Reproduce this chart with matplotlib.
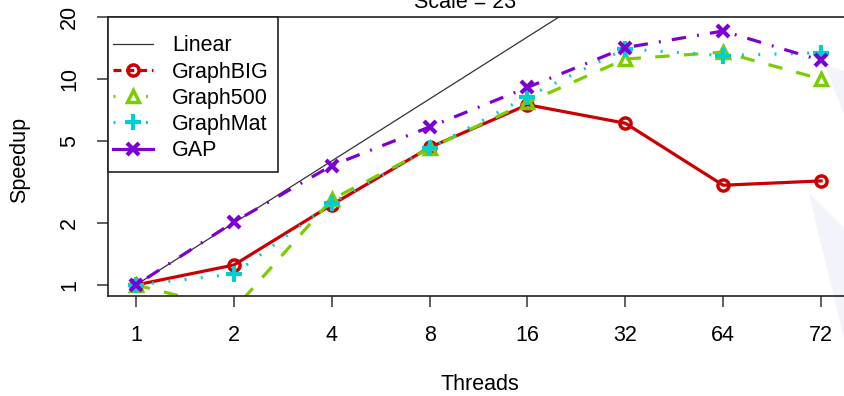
import matplotlib
matplotlib.use("Agg")
import matplotlib.pyplot as plt
from matplotlib.patches import Polygon, Rectangle
from matplotlib.lines import Line2D
import numpy as np

plt.rcParams['font.family'] = ['Liberation Sans', 'DejaVu Sans']

threads = ["1", "2", "4", "8", "16", "32", "64", "72"]
linear = [1, 2, 4, 8, 16, 32, 64, 72]
graphbig = [1.0, 1.25, 2.45, 4.65, 7.5, 6.1, 3.05, 3.2]
graph500 = [1.0, 0.76, 2.6, 4.6, 7.7, 12.5, 13.5, 10.0]
graphmat = [1.0, 1.13, 2.5, 4.6, 8.2, 14.0, 13.0, 13.4]
gap = [1.0, 2.02, 3.8, 5.85, 9.1, 14.2, 17.1, 12.3]

W, H = 845, 396
FS = 15.5
fig = plt.figure(figsize=(W / 100, H / 100), dpi=100)
AX_L, AX_T, AX_B = 108, 17, 296
ax = fig.add_axes([AX_L / W, (H - AX_B) / H, 1 - AX_L / W, (AX_B - AX_T) / H])
AW, AH = W - AX_L, AX_B - AX_T

x = np.arange(1, len(threads) + 1)
lw = 2.3
mew = 2.5
c_big, c_500, c_mat, c_gap = "#CC0000", "#7CCD00", "#00CED1", "#7D00D2"
ax.plot(x, linear, color="#333333", lw=0.9)
ax.plot(x, graphbig, color=c_big, lw=lw, marker="o", ms=8, mfc="none", mew=mew)
ax.plot(x, graph500, color=c_500, lw=lw, dashes=(4.5, 4.5), marker="^", ms=9,
        mfc="none", mew=mew)
ax.plot(x, graphmat, color=c_mat, lw=lw, dashes=(0.6, 4.5))
ax.plot(x, graphmat, color=c_mat, lw=0, marker="+", ms=12, mew=3)
ax.plot(x, gap, color=c_gap, lw=lw, dashes=(0.6, 3.5, 4.5, 3.5), marker="x", ms=9, mew=3)

ax.set_yscale("log")
ax.set_ylim(0.884, 20)
ax.set_xlim(0.714, 8.245)
ax.set_yticks([1, 2, 5, 10, 20])
ax.set_yticklabels(["1", "2", "5", "10", "20"], rotation=90, va="center")
ax.yaxis.set_minor_locator(matplotlib.ticker.NullLocator())
ax.set_xticks(x)
ax.set_xticklabels(threads)
ax.tick_params(axis="both", labelsize=FS, length=8, width=1.2, color="#444444")
ax.tick_params(axis="x", pad=13)
ax.tick_params(axis="y", pad=12)
for s in ["left", "bottom", "top"]:
    ax.spines[s].set_linewidth(1.2)
    ax.spines[s].set_color("#222222")
ax.spines["right"].set_visible(False)

fig.text(20 / W, 1 - 160 / H, "Speedup", rotation=90, ha="center", va="center", fontsize=FS)
fig.text(480 / W, 1 - 385 / H, "Threads", ha="center", va="center", fontsize=FS)
fig.text(465 / W, 1 - 2 / H, "Scale = 23", ha="center", va="center", fontsize=FS)

# legend frame
ax.add_patch(Rectangle((0, (AX_B - 172) / AH), (278 - AX_L) / AW, 1 - (AX_B - 172) / AH,
                       transform=ax.transAxes, facecolor="white", edgecolor="#222222",
                       lw=1.2, zorder=4.5, clip_on=False))
handles = [
    Line2D([], [], color="#333333", lw=0.9),
    Line2D([], [], color=c_big, lw=lw, dashes=(2.5, 1.5), marker="o", ms=8, mfc="none", mew=mew),
    Line2D([], [], color=c_500, lw=lw, dashes=(0.6, 4.5), marker="^", ms=9, mfc="none", mew=mew),
    Line2D([], [], color=c_mat, lw=lw, dashes=(0.6, 4.5), marker="+", ms=12, mew=3),
    Line2D([], [], color=c_gap, lw=lw, marker="x", ms=9, mew=3),
]
leg = ax.legend(handles, ["Linear", "GraphBIG", "Graph500", "GraphMat", "GAP"],
                loc="upper left", bbox_to_anchor=((113 - AX_L) / AW, (AX_B - 35.5) / AH),
                borderaxespad=0, frameon=False, fontsize=FS,
                handlelength=1.86, labelspacing=0.24, borderpad=0, handletextpad=0.88)
leg.set_zorder(5)

fig.patches.append(Polygon([[810 / W, 1 - 195 / H], [1.0, 1 - 230 / H], [1.0, 1 - 340 / H]],
                           closed=True, transform=fig.transFigure, color="#F3F3FC", zorder=-1))
fig.patches.append(Polygon([[826 / W, 1 - 66 / H], [1.0, 1 - 72 / H], [1.0, 1 - 115 / H]],
                           closed=True, transform=fig.transFigure, color="#F3F3FC", zorder=-1))
ax.patch.set_alpha(0)

fig.savefig("out.png", dpi=100)
